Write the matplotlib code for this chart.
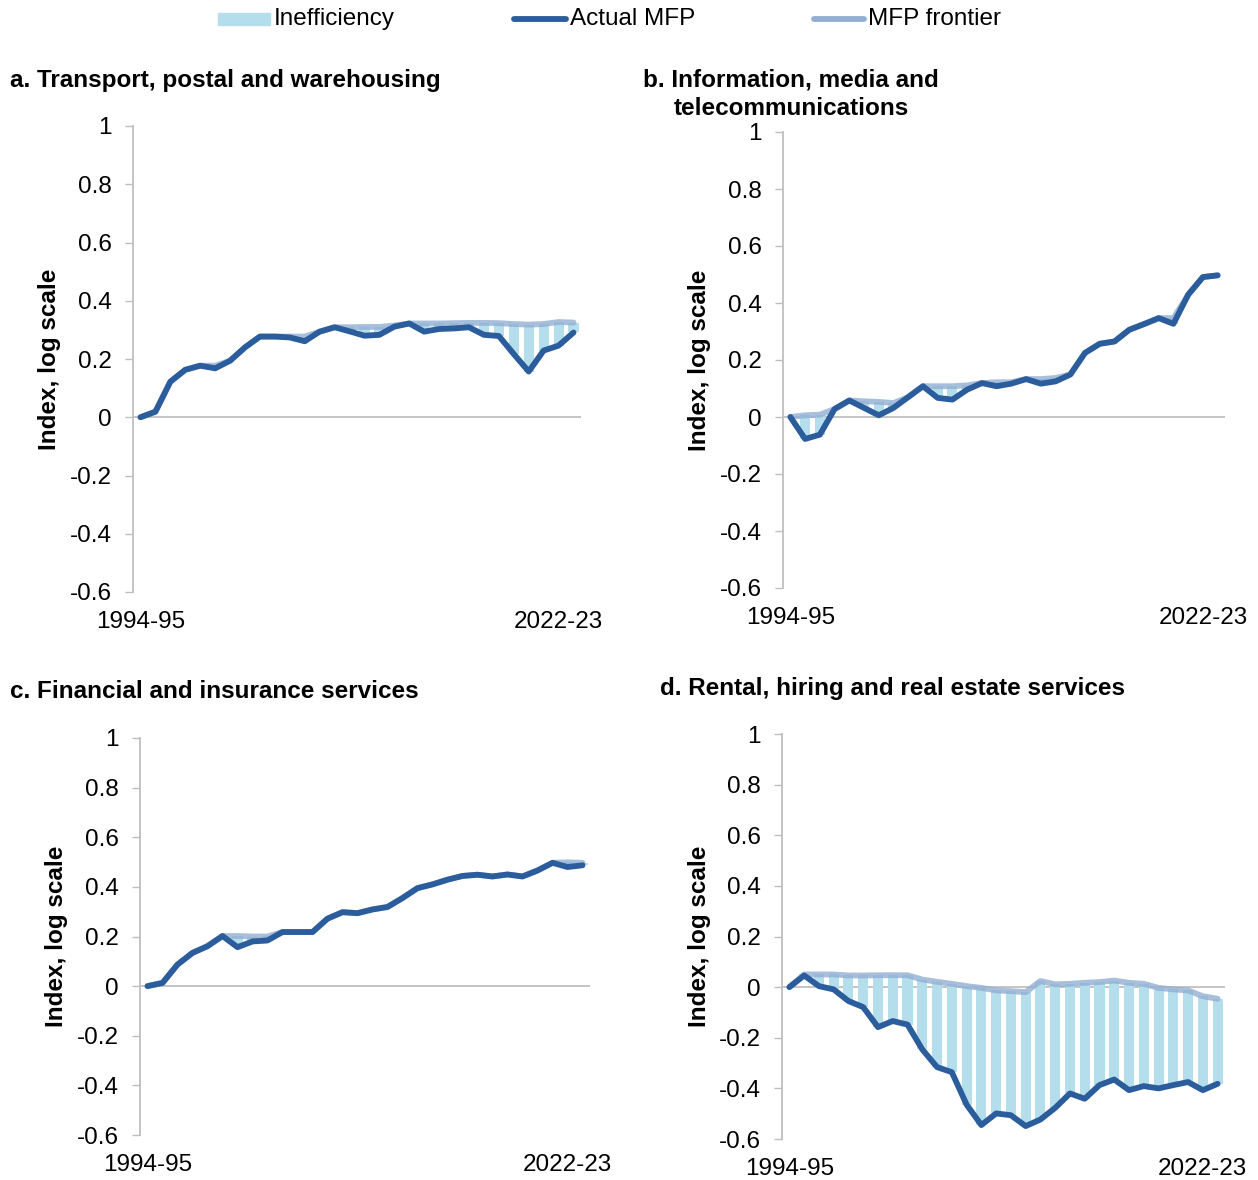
import numpy as np
import matplotlib.pyplot as plt
from matplotlib.lines import Line2D
from matplotlib.patches import Rectangle

plt.rcParams['font.family'] = ['Liberation Sans', 'DejaVu Sans']

# financial years 1994-95 .. 2023-24
years = [f"{y}-{str(y + 1)[-2:]}" for y in range(1994, 2024)]

actual_a = [0, 0.019, 0.122, 0.163, 0.177, 0.168, 0.194, 0.240, 0.277, 0.277,
            0.274, 0.261, 0.294, 0.309, 0.295, 0.280, 0.283, 0.311, 0.322, 0.294,
            0.303, 0.305, 0.309, 0.283, 0.279, 0.217, 0.157, 0.229, 0.246, 0.291]
frontier_a = [0, 0.019, 0.122, 0.163, 0.177, 0.177, 0.194, 0.240, 0.277, 0.277,
              0.277, 0.277, 0.294, 0.309, 0.309, 0.310, 0.310, 0.315, 0.322, 0.322,
              0.322, 0.323, 0.324, 0.324, 0.323, 0.320, 0.318, 0.320, 0.327, 0.325]

actual_b = [0, -0.077, -0.062, 0.028, 0.058, 0.032, 0.006, 0.032, 0.070, 0.108,
            0.067, 0.061, 0.096, 0.119, 0.108, 0.117, 0.133, 0.117, 0.125, 0.149,
            0.225, 0.257, 0.265, 0.306, 0.326, 0.347, 0.327, 0.429, 0.491, 0.497]
frontier_b = [0, 0.006, 0.008, 0.028, 0.058, 0.055, 0.053, 0.049, 0.070, 0.108,
              0.108, 0.108, 0.111, 0.119, 0.122, 0.122, 0.133, 0.133, 0.137, 0.149,
              0.225, 0.257, 0.265, 0.306, 0.326, 0.347, 0.347, 0.429, 0.491, 0.497]

actual_c = [0, 0.013, 0.087, 0.134, 0.161, 0.202, 0.157, 0.180, 0.184, 0.218,
            0.218, 0.218, 0.272, 0.298, 0.294, 0.309, 0.319, 0.355, 0.395, 0.410,
            0.429, 0.444, 0.449, 0.442, 0.450, 0.442, 0.466, 0.497, 0.480, 0.487]
frontier_c = [0, 0.013, 0.087, 0.134, 0.161, 0.202, 0.202, 0.200, 0.200, 0.218,
              0.218, 0.218, 0.272, 0.298, 0.294, 0.309, 0.319, 0.355, 0.395, 0.410,
              0.429, 0.444, 0.449, 0.442, 0.450, 0.442, 0.466, 0.497, 0.499, 0.497]

actual_d = [0, 0.046, 0.004, -0.009, -0.055, -0.079, -0.158, -0.134, -0.148, -0.246,
            -0.316, -0.336, -0.464, -0.545, -0.499, -0.506, -0.549, -0.523, -0.477, -0.420,
            -0.441, -0.387, -0.365, -0.407, -0.391, -0.400, -0.387, -0.375, -0.407, -0.382]
frontier_d = [0, 0.050, 0.050, 0.050, 0.046, 0.046, 0.047, 0.047, 0.047, 0.030,
              0.021, 0.013, 0.004, -0.003, -0.013, -0.016, -0.020, 0.024, 0.011, 0.013,
              0.017, 0.020, 0.026, 0.017, 0.013, -0.003, -0.009, -0.013, -0.036, -0.046]

titles = ["a. Transport, postal and warehousing",
          "b. Information, media and\ntelecommunications",
          "c. Financial and insurance services",
          "d. Rental, hiring and real estate services"]

c_actual = '#2B5C9C'
c_front = '#93AFD3'
c_ineff = '#B4DEEC'
c_grey = '#BFBFBF'

fig = plt.figure(figsize=(12.58, 11.80), dpi=100)

# axes boxes in pixels: left, top, right, bottom
boxes = [(133, 126, 581, 592), (783, 132, 1225, 588),
         (140, 738, 590, 1135), (782, 734, 1225, 1139)]
panels = [(actual_a, frontier_a), (actual_b, frontier_b),
          (actual_c, frontier_c), (actual_d, frontier_d)]
title_pos = [(10, 80, 'left'), (791, 94, 'center'), (10, 692, 'left'), (660, 689, 'left')]
ylab_x = [50, 700, 57, 700]

W, H = 1258, 1180
fs = 17.5
x = np.arange(len(years))
for i in range(4):
    l, t, r, b = boxes[i]
    ax = fig.add_axes([l / W, 1 - b / H, (r - l) / W, (b - t) / H])
    act = np.array(panels[i][0])
    fr = np.array(panels[i][1])

    ax.bar(x, fr - act, bottom=act, width=0.68, color=c_ineff, zorder=1)
    ax.plot(x, fr, color=c_front, lw=4.2, alpha=0.8, solid_capstyle='round', zorder=2)
    ax.plot(x, act, color=c_actual, lw=4.2, solid_capstyle='round',
            solid_joinstyle='round', zorder=3)
    ax.axhline(0, color=c_grey, lw=1.3, zorder=0)

    ax.set_xlim(-0.5, len(years) - 0.5)
    ax.set_ylim(-0.6, 1)
    ax.set_yticks([-0.6, -0.4, -0.2, 0, 0.2, 0.4, 0.6, 0.8, 1])
    ax.set_yticklabels(['-0.6', '-0.4', '-0.2', '0', '0.2', '0.4', '0.6', '0.8', '1'])
    ax.set_xticks([0, 28])
    ax.set_xticklabels([years[0], years[28]])
    ax.tick_params(axis='x', length=0, pad=14, labelsize=fs)
    ax.tick_params(axis='y', length=5.5, width=1, color=c_grey, pad=10, labelsize=fs)
    for s in ['top', 'right', 'bottom']:
        ax.spines[s].set_visible(False)
    ax.spines['left'].set_color(c_grey)
    ax.spines['left'].set_linewidth(1.3)

    tx, ty, ha = title_pos[i]
    fig.text(tx / W, 1 - ty / H, titles[i], ha=ha, va='center', fontsize=fs,
             fontweight='bold', linespacing=1.3)
    fig.text(ylab_x[i] / W, 1 - ((t + b) / 2) / H, 'Index, log scale', rotation=90,
             ha='center', va='center', fontsize=fs, fontweight='bold')

# legend across the top
ly = 1 - 19 / H
fig.patches.append(Rectangle((218 / W, 1 - 25 / H), 52 / W, 12 / H, color=c_ineff,
                             transform=fig.transFigure, figure=fig))
fig.text(274 / W, ly, 'Inefficiency', va='center', fontsize=fs)
fig.lines.append(Line2D([514 / W, 566 / W], [ly, ly], color=c_actual, lw=4.2,
                        solid_capstyle='round', transform=fig.transFigure))
fig.text(570 / W, ly, 'Actual MFP', va='center', fontsize=fs)
fig.lines.append(Line2D([814 / W, 864 / W], [ly, ly], color=c_front, lw=4.2,
                        solid_capstyle='round', transform=fig.transFigure))
fig.text(868 / W, ly, 'MFP frontier', va='center', fontsize=fs)

fig.savefig('out.png', dpi=100)
